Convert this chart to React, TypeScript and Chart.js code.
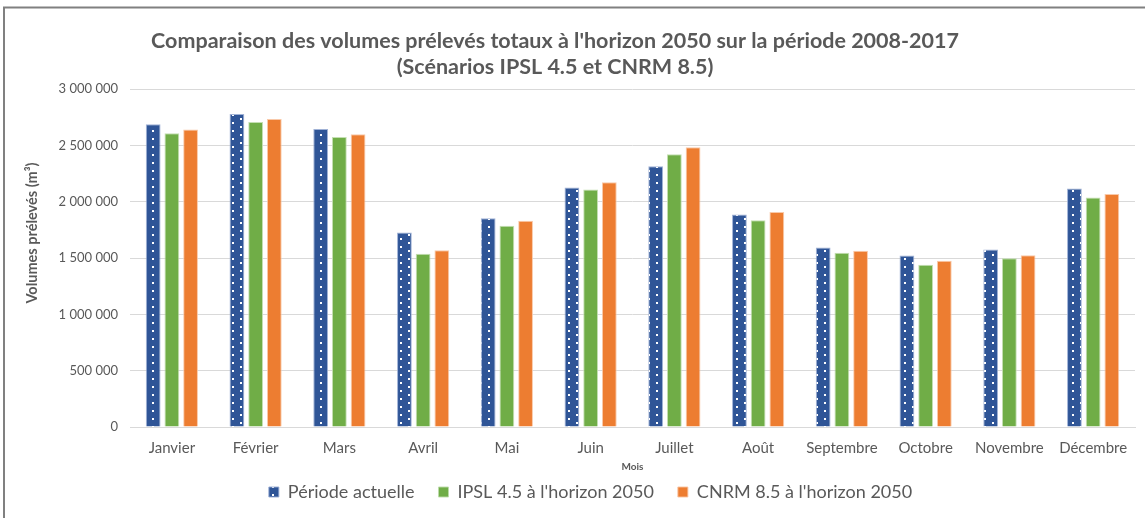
import React, { useEffect, useRef } from "react";
import { Chart, registerables } from "chart.js";

Chart.register(...registerables);

const MONTHS = ["Janvier", "Février", "Mars", "Avril", "Mai", "Juin", "Juillet", "Août", "Septembre", "Octobre", "Novembre", "Décembre"];
const PERIODE_ACTUELLE = [2688000, 2777000, 2644000, 1727000, 1852000, 2125000, 2314000, 1887000, 1593000, 1522000, 1576000, 2116000];
const IPSL_45 = [2608000, 2706000, 2573000, 1537000, 1786000, 2107000, 2421000, 1834000, 1546000, 1439000, 1498000, 2036000];
const CNRM_85 = [2641000, 2733000, 2599000, 1569000, 1831000, 2172000, 2484000, 1908000, 1564000, 1475000, 1525000, 2068000];
const SERIES_LABELS = ["Période actuelle", "IPSL 4.5 à l'horizon 2050", "CNRM 8.5 à l'horizon 2050"];
const TITLE_LINES = ["Comparaison des volumes prélevés totaux à l'horizon 2050 sur la période 2008-2017", "(Scénarios IPSL 4.5 et CNRM 8.5)"];
const Y_TITLE = "Volumes prélevés (m³)";
const X_TITLE = "Mois";

const FONT = "Lato, 'Liberation Sans', sans-serif";
const TEXT = "#595959";

function makeDotPattern(ctx: CanvasRenderingContext2D) {
  const c = document.createElement("canvas");
  c.width = 16;
  c.height = 8;
  const g = c.getContext("2d")!;
  g.fillStyle = "#2F5597";
  g.fillRect(0, 0, 16, 8);
  g.fillStyle = "#ffffff";
  g.fillRect(8, 2, 2, 2);
  g.fillRect(0, 6, 2, 2);
  return ctx.createPattern(c, "repeat")!;
}

const fmt = (v: number) => String(v).replace(/\B(?=(\d{3})+(?!\d))/g, " ");

export default function App() {
  const ref = useRef<HTMLCanvasElement | null>(null);
  useEffect(() => {
    document.body.style.margin = "0";
    document.body.style.overflow = "hidden";
    const canvas = ref.current!;
    const ctx = canvas.getContext("2d")!;
    const pattern = makeDotPattern(ctx);

    const decor = {
      id: "decor",
      afterLayout(chart: any) {
        const lg = chart.legend;
        if (lg) {
          lg.left += 23;
          lg.right += 23;
          lg.top -= 14;
          lg.bottom -= 14;
        }
      },
      afterDraw(chart: any) {
        const c = chart.ctx;
        c.save();
        // frame
        c.strokeStyle = "#808080";
        c.lineWidth = 2;
        c.beginPath();
        c.moveTo(4, chart.height);
        c.lineTo(4, 7.5);
        c.lineTo(chart.width, 7.5);
        c.stroke();
        // title
        c.fillStyle = TEXT;
        c.font = `bold 21.5px ${FONT}`;
        c.textAlign = "center";
        c.textBaseline = "middle";
        c.fillText(TITLE_LINES[0], 555, 41);
        c.fillText(TITLE_LINES[1], 555, 67);
        // y title
        c.font = `bold 14.5px ${FONT}`;
        c.translate(32, 233);
        c.rotate(-Math.PI / 2);
        c.fillText(Y_TITLE, 0, 0);
        c.restore();
      },
    };

    const chart = new Chart(canvas, {
      type: "bar",
      data: {
        labels: MONTHS,
        datasets: [
          { label: SERIES_LABELS[0], data: PERIODE_ACTUELLE, backgroundColor: pattern, borderColor: "rgba(150,170,210,0.9)", borderWidth: 1 },
          { label: SERIES_LABELS[1], data: IPSL_45, backgroundColor: "#70AD47", borderColor: "rgba(190,220,170,0.9)", borderWidth: 1 },
          { label: SERIES_LABELS[2], data: CNRM_85, backgroundColor: "#ED7D31", borderColor: "rgba(248,195,160,0.9)", borderWidth: 1 },
        ],
      },
      options: {
        animation: false,
        responsive: false,
        maintainAspectRatio: false,
        datasets: { bar: { categoryPercentage: 0.67, barPercentage: 0.79 } },
        layout: { padding: { top: 89, right: 10, bottom: -7, left: 0 } },
        plugins: {
          title: { display: false },
          tooltip: { enabled: false },
          legend: {
            position: "bottom",
            labels: {
              boxWidth: 10,
              boxHeight: 10,
              padding: 24,
              color: TEXT,
              font: { family: FONT, size: 18 },
            },
          },
        },
        scales: {
          x: {
            grid: { display: false, drawTicks: false },
            border: { display: true, color: "#d9d9d9", width: 1 },
            ticks: { color: TEXT, font: { family: FONT, size: 15 }, padding: 12, maxRotation: 0, autoSkip: false },
            title: { display: true, text: X_TITLE, color: TEXT, font: { family: FONT, size: 10, weight: "bold" }, padding: { top: -8, bottom: 0 } },
          },
          y: {
            min: 0,
            max: 3000000,
            afterFit: (s: any) => {
              s.width = 130;
            },
            grid: { color: "#d9d9d9", lineWidth: 1, drawTicks: false },
            border: { display: false },
            ticks: { stepSize: 500000, color: TEXT, font: { family: FONT, size: 13 }, padding: 12, callback: (v: any) => fmt(Number(v)) },
          },
        },
      },
      plugins: [decor],
    });
    return () => chart.destroy();
  }, []);
  return (
    <div style={{ width: 1145, height: 518, background: "#fff" }}>
      <canvas ref={ref} width={1145} height={518} style={{ display: "block" }} />
    </div>
  );
}
